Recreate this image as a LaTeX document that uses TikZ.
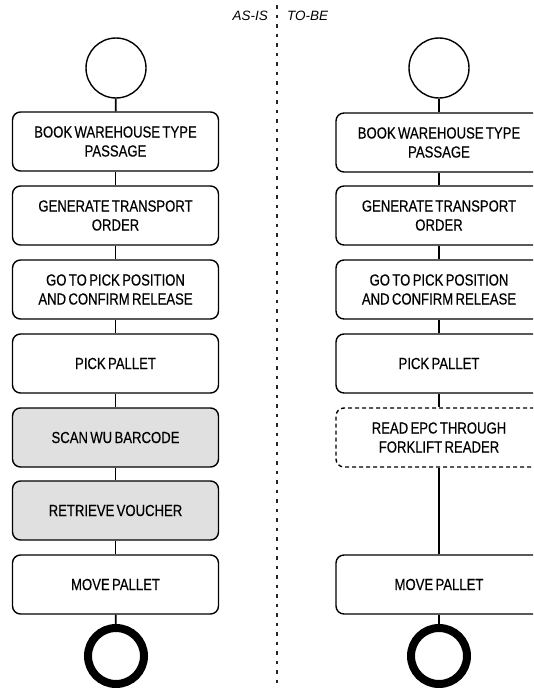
\documentclass[tikz,border=0pt]{standalone}
\usepackage{fontspec}
\setmainfont{Liberation Sans}[FakeStretch=0.82,WordSpace=0.65,FakeBold=0.4]
\newfontfamily\tagfont{Liberation Sans}
\definecolor{shade}{HTML}{E0E0E0}
\begin{document}
\begin{tikzpicture}[x=1pt,y=-1pt,
  stepbox/.style={draw, line width=1.4pt, rounded corners=8pt, minimum width=206pt,
    minimum height=59pt, inner sep=0pt, align=center,
    font=\fontsize{16}{19}\selectfont},
  oldstep/.style={stepbox, fill=shade},
  newstep/.style={stepbox, dashed, dash pattern=on 4pt off 3pt},
  startnode/.style={circle, draw, line width=1.4pt, minimum size=60pt, inner sep=0pt},
  endnode/.style={circle, draw, line width=8pt, minimum size=56pt, inner sep=0pt},
  link/.style={line width=1.7pt},
  divider/.style={line width=1.7pt, dash pattern=on 3.5pt off 6pt, black!85},
  tag/.style={font=\tagfont\itshape\fontsize{13.5}{16}\selectfont, inner sep=0pt}]
\useasboundingbox (0,0) rectangle (533,688);
\clip (0,0) rectangle (533,688);

% separator between the two processes
\coordinate (dtop) at (277,5);
\coordinate (dbot) at (277,688);
\draw[divider] (dtop) -- (dbot);
\node[tag, anchor=base east] (asis) at (268,20) {AS-IS};
\node[tag, anchor=base west] (tobe) at (287,20) {TO-BE};

% current process
\node[startnode] (ls) at (116,68) {};
\node[stepbox] (l1) at (115.5,141.5) {BOOK WAREHOUSE TYPE\\PASSAGE};
\node[stepbox] (l2) at (115.5,215.5) {GENERATE TRANSPORT\\ORDER};
\node[stepbox] (l3) at (115.5,289.5) {GO TO PICK POSITION\\AND CONFIRM RELEASE};
\node[stepbox] (l4) at (115.5,363.5) {PICK PALLET};
\node[oldstep] (l5) at (115.5,437.5) {SCAN WU BARCODE};
\node[oldstep] (l6) at (115.5,510.5) {RETRIEVE VOUCHER};
\node[stepbox] (l7) at (115.5,584.5) {MOVE PALLET};
\node[endnode] (le) at (116,656) {};
\foreach \a/\b in {ls/l1,l1/l2,l2/l3,l3/l4,l4/l5,l5/l6,l6/l7,l7/le}
  \draw[link] (\a) -- (\b);

% future process
\node[startnode] (rs) at (439,68) {};
\node[stepbox] (r1) at (439,142.5) {BOOK WAREHOUSE TYPE\\PASSAGE};
\node[stepbox] (r2) at (439,215.5) {GENERATE TRANSPORT\\ORDER};
\node[stepbox] (r3) at (439,289.5) {GO TO PICK POSITION\\AND CONFIRM RELEASE};
\node[stepbox] (r4) at (439,363.5) {PICK PALLET};
\node[newstep] (r5) at (439,437.5) {READ EPC THROUGH\\FORKLIFT READER};
\node[stepbox] (r7) at (439,584.5) {MOVE PALLET};
\node[endnode] (re) at (439,656) {};
\foreach \a/\b in {rs/r1,r1/r2,r2/r3,r3/r4,r4/r5,r5/r7,r7/re}
  \draw[link] (\a) -- (\b);
\end{tikzpicture}
\end{document}
